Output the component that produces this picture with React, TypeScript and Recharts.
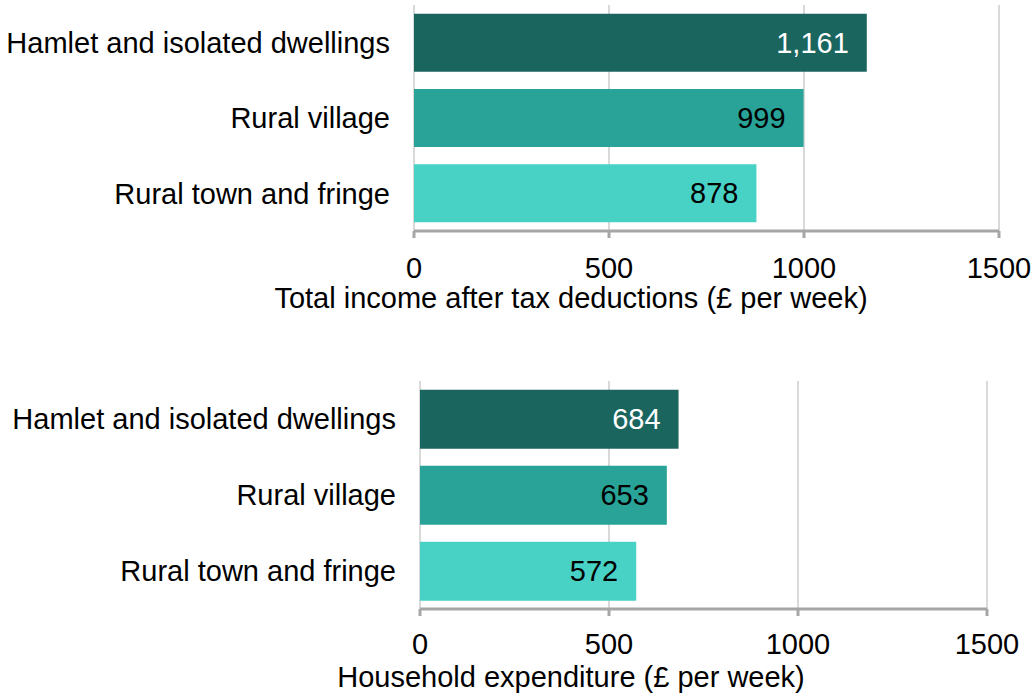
import { BarChart, Bar, XAxis, YAxis, CartesianGrid, Cell, LabelList } from "recharts";

const regions = ["Hamlet and isolated dwellings", "Rural village", "Rural town and fringe"];
const income = [1161, 999, 878];
const expenditure = [684, 653, 572];
const xTicks = [0, 500, 1000, 1500];

const barColors = ["#1B655F", "#29A398", "#48D2C6"];
const labelColors = ["#ffffff", "#000000", "#000000"];
const font = "'Liberation Sans', Arial, sans-serif";
const fs = 29;

type PanelProps = {
  values: number[];
  title: string;
  top: number;
  plotTop: number;
  right: number;
  bottom: number;
  yWidth: number;
  tickGap: number;
  titleY: number;
};

const Panel = ({ values, title, top, plotTop, right, bottom, yWidth, tickGap, titleY }: PanelProps) => {
  const rows = regions.map((region, i) => ({ region, value: values[i] }));
  return (
    <div style={{ position: "absolute", left: 0, top, width: 1035, height: 348 }}>
      <BarChart
        width={1035}
        height={348}
        data={rows}
        layout="vertical"
        margin={{ top: plotTop, right, bottom: 0, left: 0 }}
        barCategoryGap="11.5%"
        style={{ fontFamily: font }}
      >
        <CartesianGrid horizontal={false} stroke="#d9d9d9" strokeWidth={2} />
        <XAxis
          type="number"
          domain={[0, 1500]}
          ticks={xTicks}
          interval={0}
          axisLine={{ stroke: "#a6a6a6", strokeWidth: 3 }}
          tickLine={{ stroke: "#a6a6a6", strokeWidth: 3 }}
          tickSize={7}
          tickMargin={tickGap - 7}
          tick={{ fill: "#000", fontSize: fs }}
          height={bottom}
        />
        <YAxis
          type="category"
          dataKey="region"
          width={yWidth}
          interval={0}
          axisLine={false}
          tickLine={false}
          tickSize={0}
          tickMargin={24}
          tick={{ fill: "#000", fontSize: fs }}
        />
        <Bar dataKey="value" isAnimationActive={false}>
          {rows.map((r, i) => (
            <Cell key={r.region} fill={barColors[i]} />
          ))}
          <LabelList
            dataKey="value"
            content={(p: any) => {
              const idx = values.indexOf(Number(p.value));
              return (
                <text
                  x={p.x + p.width - 18}
                  y={p.y + p.height / 2 + 10}
                  textAnchor="end"
                  fill={labelColors[idx]}
                  fontSize={fs}
                  fontFamily={font}
                >
                  {Number(p.value).toLocaleString("en-GB")}
                </text>
              );
            }}
          />
        </Bar>
      </BarChart>
      <div
        style={{
          position: "absolute",
          left: 0,
          width: 1142,
          top: titleY,
          textAlign: "center",
          fontFamily: font,
          fontSize: fs,
          lineHeight: "32px",
          color: "#000",
        }}
      >
        {title}
      </div>
    </div>
  );
};

export default function App() {
  return (
    <div style={{ position: "absolute", left: 0, top: 0, width: 1035, height: 696, background: "#fff" }}>
      <Panel
        values={income}
        title="Total income after tax deductions (£ per week)"
        top={0}
        plotTop={5}
        right={36}
        bottom={117}
        yWidth={414}
        tickGap={26}
        titleY={282}
      />
      <Panel
        values={expenditure}
        title="Household expenditure (£ per week)"
        top={348}
        plotTop={33}
        right={48}
        bottom={87}
        yWidth={420}
        tickGap={24}
        titleY={313}
      />
    </div>
  );
}
